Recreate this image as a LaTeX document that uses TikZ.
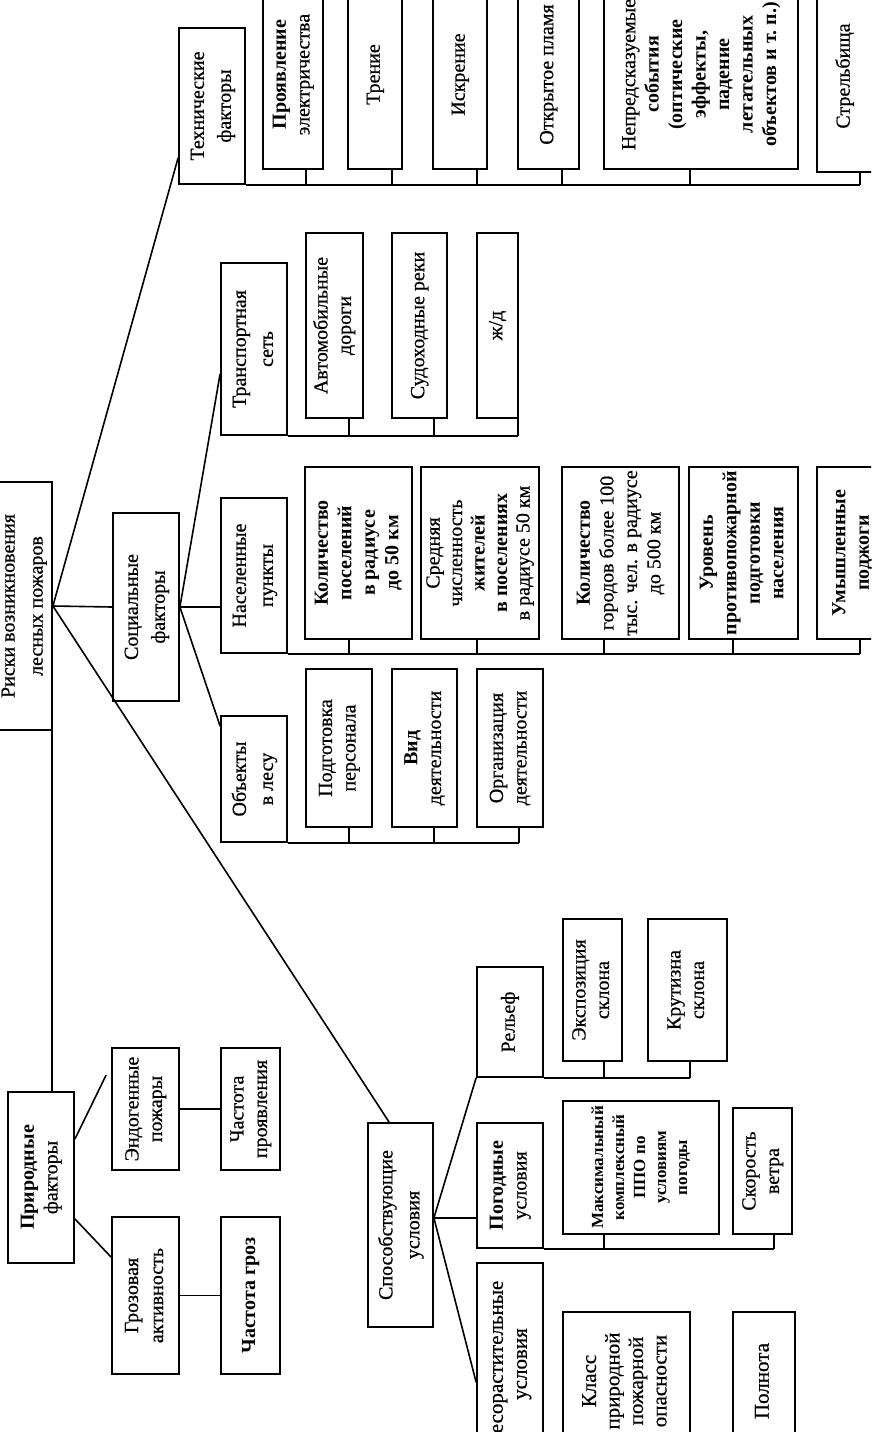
\documentclass[tikz,border=0pt]{standalone}
\usepackage{fontspec}
\setmainfont{Liberation Serif}[UprightFeatures={FakeBold=0.6}]
\usepackage{graphicx}
\tikzset{
  box/.style={draw, line width=1.8pt, inner sep=0pt, fill=white},
  conn/.style={line width=1.6pt},
}
\newcommand\bx[7][\fontsize{20}{23.5}\selectfont]{%
  \node[box, minimum width={(#5)-(#3)}, minimum height={(#6)-(#4)}] (#2)
    at ({((#3)+(#5))/2},{((#4)+(#6))/2})
    {\rotatebox{90}{#1\begin{tabular}{@{}c@{}}#7\end{tabular}}};}
\newcommand\drop[3]{\coordinate (dtmp) at (#3,0);
  \draw[conn] (#1.south -| dtmp) -- (#2.south -| dtmp);}
\newcommand\bus[2]{\coordinate (btmp) at (#2,0);
  \draw[conn] (#1.south east) -- (#1.south -| btmp);}
\begin{document}
\begin{tikzpicture}[x=1pt,y=-1pt]
\useasboundingbox (0,0) rectangle (871,1432);
\clip (0,0) rectangle (871,1432);
\fill[white] (0,0) rectangle (871,1432);

% root
\bx[\fontsize{20}{28}\selectfont]{root}{-6}{482}{52}{730}{Риски возникновения\\лесных пожаров}

% technical
\bx[\fontsize{20}{27}\selectfont]{tech}{179}{28}{245}{184}{Технические\\факторы}
\bx{e1}{263}{-20}{323}{169}{\textbf{Проявление}\\электричества}
\bx{e2}{348}{-20}{402}{169}{Трение}
\bx{e3}{433}{-20}{487}{169}{Искрение}
\bx{e4}{518}{-20}{579}{169}{Открытое пламя}
\bx{e5}{604}{-20}{798}{169}{Непредсказуемые\\\textbf{события}\\\textbf{(оптические}\\\textbf{эффекты,}\\\textbf{падение}\\\textbf{летательных}\\\textbf{объектов и т.~п.)}}
\bx{e6}{817}{-20}{873}{172}{Стрельбища}
\bus{tech}{860}
\drop{e1}{tech}{306}
\drop{e2}{tech}{392}
\drop{e3}{tech}{477}
\drop{e4}{tech}{562}
\drop{e5}{tech}{690}
\drop{e6}{tech}{860}

% social
\bx[\fontsize{20}{27}\selectfont]{soc}{113}{513}{179}{701}{Социальные\\факторы}
\bx[\fontsize{20}{27}\selectfont]{trans}{221}{263}{287}{435}{Транспортная\\сеть}
\bx{t1}{306}{233}{363}{418}{Автомобильные\\дороги}
\bx{t2}{392}{233}{447}{418}{Судоходные реки}
\bx{t3}{477}{233}{518}{418}{ж/д}
\bus{trans}{518}
\drop{t1}{trans}{349}
\drop{t2}{trans}{434}
\drop{t3}{trans}{518}

\bx[\fontsize{20}{27}\selectfont]{nas}{221}{498}{287}{653}{Населенные\\пункты}
\bx{n1}{305}{467}{412}{639}{\textbf{Количество}\\\textbf{поселений}\\\textbf{в радиусе}\\\textbf{до 50 км}}
\bx[\fontsize{20}{22.5}\selectfont]{n2}{421}{467}{539}{639}{Средняя\\численность\\\textbf{жителей}\\\textbf{в поселениях}\\в радиусе 50 км}
\bx{n3}{562}{467}{679}{639}{\textbf{Количество}\\городов более 100\\тыс. чел. в радиусе\\до 500 км}
\bx{n4}{689}{467}{798}{639}{\textbf{Уровень}\\\textbf{противопожарной}\\\textbf{подготовки}\\\textbf{населения}}
\bx{n5}{817}{467}{888}{639}{\textbf{Умышленные}\\\textbf{поджоги}}
\bus{nas}{860}
\drop{n1}{nas}{349}
\drop{n2}{nas}{477}
\drop{n3}{nas}{604}
\drop{n4}{nas}{733}
\drop{n5}{nas}{860}

\bx[\fontsize{20}{27}\selectfont]{obj}{221}{716}{287}{842}{Объекты\\в лесу}
\bx{o1}{306}{669}{372}{827}{Подготовка\\персонала}
\bx{o2}{392}{669}{457}{827}{\textbf{Вид}\\деятельности}
\bx{o3}{477}{669}{543}{827}{Организация\\деятельности}
\bus{obj}{519}
\drop{o1}{obj}{349}
\drop{o2}{obj}{434}
\drop{o3}{obj}{519}

% natural
\bx{prir}{8}{1092}{74}{1263}{\textbf{Природные}\\факторы}
\bx{endo}{112}{1048}{179}{1170}{Эндогенные\\пожары}
\bx{chp}{221}{1048}{280}{1170}{Частота\\проявления}
\bx[\fontsize{20}{25}\selectfont]{groz}{112}{1217}{179}{1374}{Грозовая\\активность}
\bx{chg}{221}{1217}{280}{1374}{\textbf{Частота гроз}}

% conditions
\bx[\fontsize{20}{27}\selectfont]{spos}{368}{1123}{433}{1327}{Способствующие\\условия}
\bx{rel}{477}{967}{543}{1077}{Рельеф}
\bx{exp}{563}{919}{622}{1061}{Экспозиция\\склона}
\bx{krut}{648}{919}{727}{1061}{Крутизна\\склона}
\bus{rel}{690}
\drop{exp}{rel}{604}
\drop{krut}{rel}{690}

\bx{pog}{477}{1123}{543}{1248}{\textbf{Погодные}\\условия}
\bx[\fontsize{17}{21}\selectfont]{max}{563}{1101}{719}{1234}{\textbf{Максимальный}\\\textbf{комплексный}\\\textbf{ППО по}\\\textbf{условиям}\\\textbf{погоды}}
\bx{wind}{733}{1108}{792}{1234}{Скорость\\ветра}
\bus{pog}{774}
\drop{max}{pog}{604}
\drop{wind}{pog}{774}

\bx[\fontsize{21}{24}\selectfont]{les}{477}{1263}{543}{1465}{Лесорастительные\\условия}
\bx[\fontsize{21}{23.5}\selectfont]{klass}{563}{1312}{690}{1450}{Класс\\природной\\пожарной\\опасности}
\bx[\fontsize{21}{23.5}\selectfont]{poln}{733}{1312}{795}{1450}{Полнота}
\bus{les}{774}
\drop{klass}{les}{604}
\drop{poln}{les}{774}

% connectors from root
\draw[conn] (root.east) -- ([yshift=27pt]tech.south west);
\draw[conn] (root.east) -- (soc.west);
\draw[conn] (root.east) -- ([xshift=22pt]spos.north west);
\coordinate (rb) at ([xshift=-1pt]root.south east);
\draw[conn] (rb) -- (prir.north -| rb);

% social connectors
\draw[conn] (soc.east) -- ([yshift=62pt]trans.south west);
\draw[conn] (soc.east) -- (nas.west |- soc.east);
\draw[conn] (soc.east) -- ([yshift=-11pt]obj.north west);

% natural connectors
\draw[conn] ([yshift=-48pt]prir.north east) -- ([xshift=-5pt,yshift=-28pt]endo.north west);
\draw[conn] ([yshift=45pt]prir.south east) -- ([yshift=-41pt]groz.north west);
\draw[conn] (endo.east) -- (chp.west);
\draw[conn] (groz.east) -- (chg.west);

% conditions connectors
\coordinate (sp) at ([yshift=110pt]spos.south east);
\draw[conn] (sp) -- (rel.south west);
\draw[conn] (sp) -- (pog.west |- sp);
\draw[conn] (sp) -- ([yshift=-120pt]les.north west);
\end{tikzpicture}
\end{document}
